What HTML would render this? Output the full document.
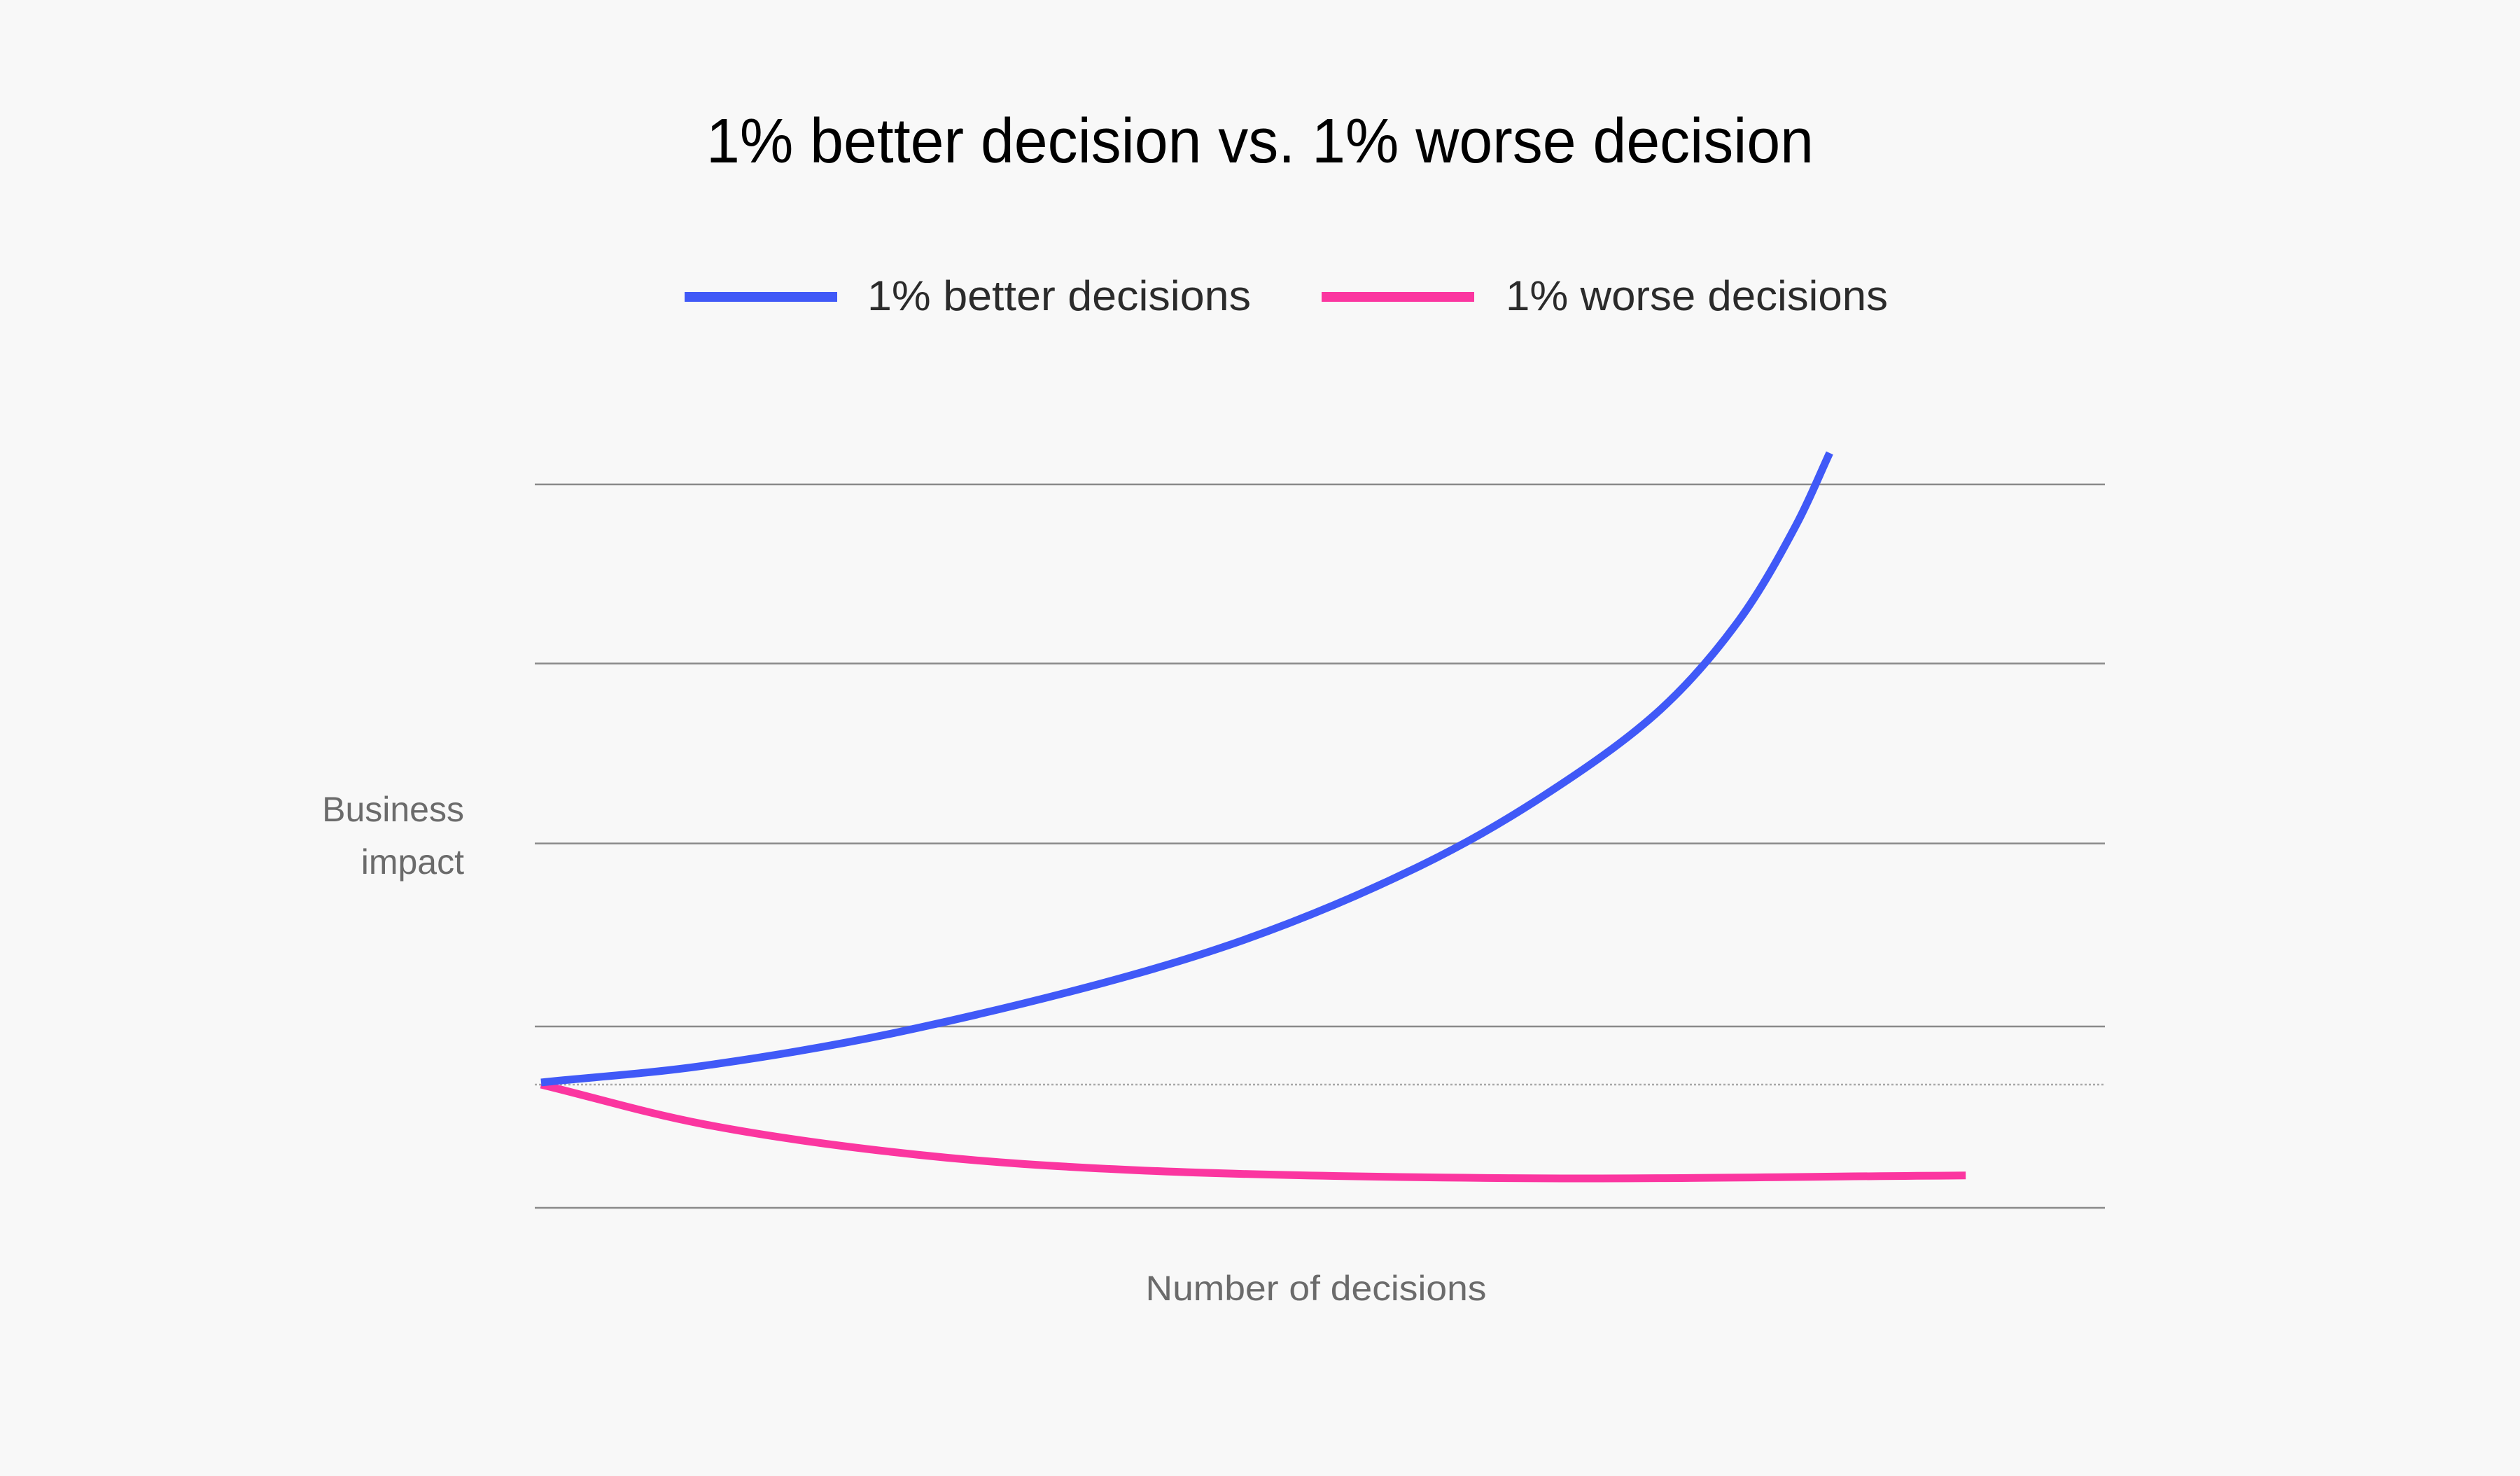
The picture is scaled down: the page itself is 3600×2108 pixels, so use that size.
<!DOCTYPE html>
<html><head><meta charset="utf-8"><style>
html,body{margin:0;padding:0;background:#f8f8f8;}
svg{display:block;}
text{font-family:"Liberation Sans",sans-serif;}
</style></head><body>
<svg id="chart" width="3600" height="2108" viewBox="0 0 3600 2108" xmlns="http://www.w3.org/2000/svg">
<rect x="0" y="0" width="3600" height="2108" fill="#f8f8f8"/>
<text x="1009" y="232" font-size="90" fill="#000" textLength="1582" lengthAdjust="spacingAndGlyphs">1% better decision vs. 1% worse decision</text>
<g>
<g>
<rect x="978" y="417" width="218" height="14" fill="#4059f7"/>
<text x="1239" y="443" font-size="60" fill="#2b2b2b" textLength="548" lengthAdjust="spacingAndGlyphs">1% better decisions</text>
</g>
<g>
<rect x="1888" y="417" width="218" height="14" fill="#fb36a0"/>
<text x="2151" y="443" font-size="60" fill="#2b2b2b" textLength="546" lengthAdjust="spacingAndGlyphs">1% worse decisions</text>
</g>
</g>
<text font-size="50" fill="#6b6b6b" text-anchor="end"><tspan x="663" y="1173">Business</tspan><tspan x="663" y="1248">impact</tspan></text>
<text x="1880" y="1857" font-size="50" fill="#6b6b6b" text-anchor="middle" textLength="487" lengthAdjust="spacingAndGlyphs">Number of decisions</text>
<g id="grid"></g>
<g id="series"></g>
</svg>
<script>
const gridValues = [333.5, 234, 134, 32.3, -68.5];
const baselineValue = [0];
const betterX = [0, 10.4, 24.1, 43.3, 55.9, 64.0, 71.6, 76.6, 80.3, 82.4];
const betterY = [1.2, 10.5, 31.5, 75.5, 120.2, 159.9, 208.6, 258.0, 311.7, 351.0];
const worseX = [0, 10.4, 24.1, 37.9, 61.9, 91.1];
const worseY = [0, -22, -39, -47.5, -52, -50.5];

const X0 = 773, XPX = 22.34, Y0 = 1549, YPX = 2.57;
const GX1 = 764, GX2 = 3007;
function xs(v){ return X0 + v * XPX; }
function ys(v){ return Y0 - v * YPX; }
const NS = "http://www.w3.org/2000/svg";
const grid = document.getElementById('grid');
gridValues.forEach(function(v){
  const l = document.createElementNS(NS, 'line');
  
  
  l.setAttribute('x1', GX1); l.setAttribute('x2', GX2);
  l.setAttribute('y1', ys(v)); l.setAttribute('y2', ys(v));
  l.setAttribute('stroke', '#8a8a8a'); l.setAttribute('stroke-width', '2.5');
  grid.appendChild(l);
});
baselineValue.forEach(function(v){
  const l = document.createElementNS(NS, 'line');
  
  
  l.setAttribute('x1', GX1); l.setAttribute('x2', GX2);
  l.setAttribute('y1', ys(v)); l.setAttribute('y2', ys(v));
  l.setAttribute('stroke', '#a8a8a8'); l.setAttribute('stroke-width', '2.5');
  l.setAttribute('stroke-dasharray', '3 3');
  grid.appendChild(l);
});
function crPath(xa, ya){
  const p = xa.map(function(x, i){ return [xs(x), ys(ya[i])]; });
  const n = p.length;
  const ext = [[2*p[0][0]-p[1][0], 2*p[0][1]-p[1][1]]].concat(p, [[2*p[n-1][0]-p[n-2][0], 2*p[n-1][1]-p[n-2][1]]]);
  function dist(a, b){ return Math.max(1e-6, Math.pow(Math.hypot(b[0]-a[0], b[1]-a[1]), 0.5)); }
  let d = 'M' + p[0][0] + ' ' + p[0][1];
  for (let i = 1; i < ext.length - 2; i++){
    const p0 = ext[i-1], p1 = ext[i], p2 = ext[i+1], p3 = ext[i+2];
    const d1 = dist(p0, p1), d2 = dist(p1, p2), d3 = dist(p2, p3);
    const b1 = [0, 1].map(function(k){
      return (d1*d1*p2[k] - d2*d2*p0[k] + (2*d1*d1 + 3*d1*d2 + d2*d2)*p1[k]) / (3*d1*(d1+d2));
    });
    const b2 = [0, 1].map(function(k){
      return (d3*d3*p1[k] - d2*d2*p3[k] + (2*d3*d3 + 3*d3*d2 + d2*d2)*p2[k]) / (3*d3*(d3+d2));
    });
    d += ' C' + b1[0] + ' ' + b1[1] + ' ' + b2[0] + ' ' + b2[1] + ' ' + p2[0] + ' ' + p2[1];
  }
  return d;
}
const series = document.getElementById('series');
const pw = document.createElementNS(NS, 'path');


pw.setAttribute('d', crPath(worseX, worseY));
pw.setAttribute('fill', 'none'); pw.setAttribute('stroke', '#fb36a0'); pw.setAttribute('stroke-width', '11');
series.appendChild(pw);
const pb = document.createElementNS(NS, 'path');


pb.setAttribute('d', crPath(betterX, betterY));
pb.setAttribute('fill', 'none'); pb.setAttribute('stroke', '#4059f7'); pb.setAttribute('stroke-width', '11');
series.appendChild(pb);
</script>
</body></html>
